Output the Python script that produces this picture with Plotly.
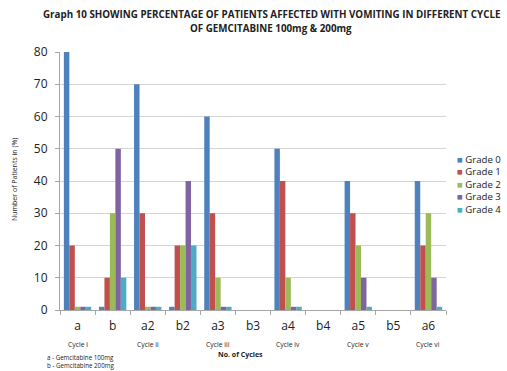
import plotly.graph_objects as go

# Categories: a = Gemcitabine 100mg, b = Gemcitabine 200mg, per cycle
categories = ["a", "b", "a2", "b2", "a3", "b3", "a4", "b4", "a5", "b5", "a6"]

# Percentage of patients per vomiting grade (None = no data)
grade0 = [80, 1, 70, 1, 60, None, 50, None, 40, None, 40]
grade1 = [20, 10, 30, 20, 30, None, 40, None, 30, None, 20]
grade2 = [1, 30, 1, 20, 10, None, 10, None, 20, None, 30]
grade3 = [1, 50, 1, 40, 1, None, 1, None, 10, None, 10]
grade4 = [1, 10, 1, 20, 1, None, 1, None, 1, None, 1]

series_names = ["Grade 0", "Grade 1", "Grade 2", "Grade 3", "Grade 4"]
series_colors = ["#4F81BD", "#C0504D", "#9BBB59", "#8064A2", "#4BACC6"]

cycle_labels = ["Cycle i", "Cycle ii", "Cycle iii", "Cycle iv", "Cycle v", "Cycle vi"]
cycle_positions = ["a", "a2", "a3", "a4", "a5", "a6"]

y_ticks = [0, 10, 20, 30, 40, 50, 60, 70, 80]

FONT = "Open Sans"
W, H = 507, 371
ML, MR, MT, MB = 60, 61, 52, 61
PW, PH = W - ML - MR, H - MT - MB


def px(x):
    return (x - ML) / PW


def py(y_from_top):
    return (H - y_from_top - MB) / PH


fig = go.Figure()
for name, vals, col in zip(series_names, [grade0, grade1, grade2, grade3, grade4], series_colors):
    fig.add_trace(go.Bar(x=categories, y=vals, name=name, marker_color=col,
                         marker_line_width=0, showlegend=False))

fig.update_layout(
    width=W, height=H,
    margin=dict(l=ML, r=MR, t=MT, b=MB),
    paper_bgcolor="white", plot_bgcolor="white",
    barmode="group", bargap=0.22, bargroupgap=0,
    font=dict(family=FONT, color="#222"),
)

fig.update_xaxes(
    type="category", categoryorder="array", categoryarray=categories,
    tickson="boundaries", ticks="outside", ticklen=4, tickcolor="#A6A6A6",
    showline=True, linecolor="#A6A6A6", linewidth=1,
    tickfont=dict(size=12, color="#222"), showgrid=False, ticklabelstandoff=5,
)
fig.update_yaxes(
    range=[0, 80], tickvals=y_ticks, ticks="outside", ticklen=4,
    tickcolor="#A6A6A6", showline=True, linecolor="#A6A6A6",
    showgrid=True, gridcolor="#D4D4D4", gridwidth=1,
    tickfont=dict(size=12, color="#222"), zeroline=False, ticklabelstandoff=5,
)

annotations = [
    dict(text="<b>Graph 10 SHOWING PERCENTAGE OF PATIENTS AFFECTED WITH VOMITING IN DIFFERENT CYCLE</b>",
         x=px(271), y=py(15), font=dict(size=9.8, color="#222")),
    dict(text="<b>OF GEMCITABINE 100mg &amp; 200mg</b>",
         x=px(271), y=py(28), font=dict(size=9.8, color="#222")),
    dict(text="Number of Patients in (%)", x=px(14), y=py(180), textangle=-90,
         font=dict(size=7, color="#222")),
    dict(text="<b>No. of Cycles</b>", x=px(240), y=py(354),
         font=dict(size=7, color="#222")),
    dict(text="a - Gemcitabine 100mg<br>b - Gemcitabine 200mg", x=px(46), y=py(361.5),
         xanchor="left", align="left", borderpad=0, font=dict(size=6.2, color="#222")),
]

for lbl, pos in zip(cycle_labels, cycle_positions):
    annotations.append(dict(text=lbl, x=pos, xref="x", y=py(344),
                            font=dict(size=6.8, color="#222")))

# Legend: coloured square + series name, one row per grade
for i, (name, col) in enumerate(zip(series_names, series_colors)):
    annotations.append(dict(
        text=f'<span style="color:{col}">■</span> {name}',
        x=px(455), y=py(159 + 12.5 * i), xanchor="left",
        font=dict(size=9.6, color="#222")))

for a in annotations:
    a.setdefault("xref", "paper")
    a.setdefault("xanchor", "center")
    a["yref"] = "paper"
    a["yanchor"] = "middle"
    a["showarrow"] = False

fig.update_layout(annotations=annotations)

fig.write_html("out.html")
